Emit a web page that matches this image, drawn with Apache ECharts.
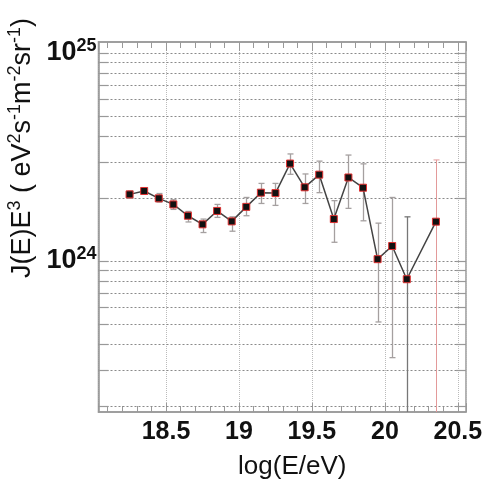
<!DOCTYPE html>
<html><head><meta charset="utf-8">
<script src="https://cdn.jsdelivr.net/npm/echarts@6/dist/echarts.min.js"></script>
<style>html,body{margin:0;padding:0;background:#fff}#c{width:487px;height:490px}</style>
</head><body><div id="c"></div>
<script>
// ---- data ----
const logE = [18.25, 18.35, 18.45, 18.55, 18.65, 18.75, 18.85, 18.95, 19.05, 19.15, 19.25,
              19.35, 19.45, 19.55, 19.65, 19.75, 19.85, 19.95, 20.05, 20.15, 20.35];
const flux = [2.09e24, 2.17e24, 2.00e24, 1.87e24, 1.65e24, 1.50e24, 1.74e24, 1.55e24, 1.82e24, 2.13e24, 2.12e24,
              2.94e24, 2.26e24, 2.60e24, 1.59e24, 2.52e24, 2.25e24, 1.02e24, 1.18e24, 8.17e23, 1.545e24];
const fluxHigh = [2.17e24, 2.24e24, 2.11e24, 1.97e24, 1.73e24, 1.59e24, 1.87e24, 1.63e24, 2.02e24, 2.36e24, 2.36e24,
                  3.27e24, 2.62e24, 3.02e24, 1.95e24, 3.23e24, 2.93e24, 1.52e24, 2.02e24, 1.63e24, 3.06e24];
const fluxLow = [2.00e24, 2.10e24, 1.92e24, 1.77e24, 1.54e24, 1.37e24, 1.62e24, 1.39e24, 1.65e24, 1.89e24, 1.85e24,
                 2.61e24, 1.89e24, 2.13e24, 1.23e24, 1.79e24, 1.56e24, 5.09e23, 3.43e23, 1e22, 1e22];
const yGridValues = [2e23, 3e23, 4e23, 5e23, 6e23, 7e23, 8e23, 9e23,
                     1e24, 2e24, 3e24, 4e24, 5e24, 6e24, 7e24, 8e24, 9e24, 1e25];
const xTitle = 'log(E/eV)';
const yTitleRich = '{n|J(E)E}{u|3}{n| ( eV}{u|2}{n|s}{u|-1}{n|m}{u|-2}{n|sr}{u|-1}{n|)}';

const X_MIN = 18.037, X_MAX = 20.556, Y_MIN = 1.879e23, Y_MAX = 1.129e25;
const FONT = '"Liberation Sans", Arial, Helvetica, sans-serif';

const chart = echarts.init(document.getElementById('c'), null, {renderer: 'canvas'});

const errData = logE.map((x, i) => [x, fluxLow[i], fluxHigh[i]]);
const lineData = logE.map((x, i) => [x, flux[i]]);
const gridData = yGridValues.map(v => [X_MIN, v]);

const option = {
  animation: false,
  backgroundColor: '#fff',
  grid: {left: 98.5, right: 21, top: 42, bottom: 78, show: true, borderColor: '#999', borderWidth: 1.5},
  xAxis: [{
    type: 'value', min: X_MIN, max: X_MAX, splitNumber: 5, position: 'bottom',
    axisLine: {show: true, onZero: false, lineStyle: {color: '#999', width: 1.5}},
    axisTick: {show: true, inside: true, length: 9, lineStyle: {color: '#999'}},
    minorTick: {show: true, splitNumber: 5, length: 6, lineStyle: {color: '#999'}},
    splitLine: {show: true, lineStyle: {type: 'dotted', color: '#bbb'}},
    axisLabel: {showMinLabel: false, showMaxLabel: false, margin: 8,
      fontFamily: FONT, fontWeight: 'bold', fontSize: 25, color: '#111'},
    name: xTitle, nameLocation: 'middle', nameGap: 42,
    nameTextStyle: {fontFamily: FONT, fontSize: 26, color: '#111', padding: [0, 0, 0, 20]}
  }, {
    type: 'value', min: X_MIN, max: X_MAX, splitNumber: 5, position: 'top',
    axisLine: {show: true, onZero: false, lineStyle: {color: '#999', width: 1.5}},
    axisTick: {show: true, inside: true, length: 9, lineStyle: {color: '#999'}},
    minorTick: {show: true, splitNumber: 5, length: 6, lineStyle: {color: '#999'}},
    splitLine: {show: false}, axisLabel: {show: false}
  }],
  yAxis: [{
    type: 'log', logBase: 10, min: Y_MIN, max: Y_MAX,
    axisLine: {show: true, lineStyle: {color: '#999', width: 1.5}},
    axisTick: {show: false}, splitLine: {show: false},
    axisLabel: {
      margin: 2, showMinLabel: false, showMaxLabel: false,
      formatter: function (v) {
        const e = Math.log10(v);
        if (Math.abs(e - Math.round(e)) < 1e-6) return '{b|10}{s|' + Math.round(e) + '}';
        return '';
      },
      rich: {
        b: {fontFamily: FONT, fontWeight: 'bold', fontSize: 27, color: '#111', lineHeight: 32},
        s: {fontFamily: FONT, fontWeight: 'bold', fontSize: 18, color: '#111', verticalAlign: 'top', lineHeight: 18}
      }
    }
  }],
  graphic: [{
    type: 'text', x: 23, y: 148, rotation: Math.PI / 2, silent: true,
    style: {
      text: yTitleRich, align: 'center', verticalAlign: 'middle', fill: '#111',
      rich: {
        n: {fontFamily: FONT, fontSize: 27, fill: '#111', lineHeight: 33},
        u: {fontFamily: FONT, fontSize: 18, fill: '#111', verticalAlign: 'top', lineHeight: 18}
      }
    }
  }],
  series: [{
    type: 'custom', name: 'ygrid', silent: true, clip: false, z: 1,
    data: gridData,
    renderItem: function (params, api) {
      const p = api.coord([api.value(0), api.value(1)]);
      const cs = params.coordSys;
      const y = Math.round(p[1]) + 0.5;
      return {type: 'group', children: [
        {type: 'line', shape: {x1: cs.x, y1: y, x2: cs.x + cs.width, y2: y},
          style: {stroke: '#8a8a8a', lineWidth: 1, lineDash: [2, 2]}},
        {type: 'line', shape: {x1: cs.x, y1: y, x2: cs.x + 10, y2: y},
          style: {stroke: '#999', lineWidth: 1.2}},
        {type: 'line', shape: {x1: cs.x + cs.width - 10, y1: y, x2: cs.x + cs.width, y2: y},
          style: {stroke: '#999', lineWidth: 1.2}}
      ]};
    }
  }, {
    type: 'custom', name: 'errors', silent: true, clip: true, z: 2,
    data: errData,
    renderItem: function (params, api) {
      const x = api.value(0);
      const lo = api.coord([x, api.value(1)]);
      const hi = api.coord([x, api.value(2)]);
      const last = params.dataIndex === logE.length - 1;
      const col = last ? '#e39a9a' : (params.dataIndex === logE.length - 2 ? '#777' : '#a5a0a0');
      const w = last ? 1 : 1.3;
      const px = Math.round(lo[0]) + 0.5;
      return {type: 'group', children: [
        {type: 'line', shape: {x1: px, y1: lo[1], x2: px, y2: hi[1]}, style: {stroke: col, lineWidth: w}},
        {type: 'line', shape: {x1: px - 3, y1: hi[1], x2: px + 3, y2: hi[1]}, style: {stroke: col, lineWidth: w}},
        {type: 'line', shape: {x1: px - 3, y1: lo[1], x2: px + 3, y2: lo[1]}, style: {stroke: col, lineWidth: w}}
      ]};
    }
  }, {
    type: 'line', name: 'flux', z: 3,
    data: lineData,
    symbol: 'rect', symbolSize: 7,
    itemStyle: {color: '#111', borderColor: '#e03030', borderWidth: 1},
    lineStyle: {color: '#444', width: 1.5}
  }]
};
chart.setOption(option);
</script></body></html>
